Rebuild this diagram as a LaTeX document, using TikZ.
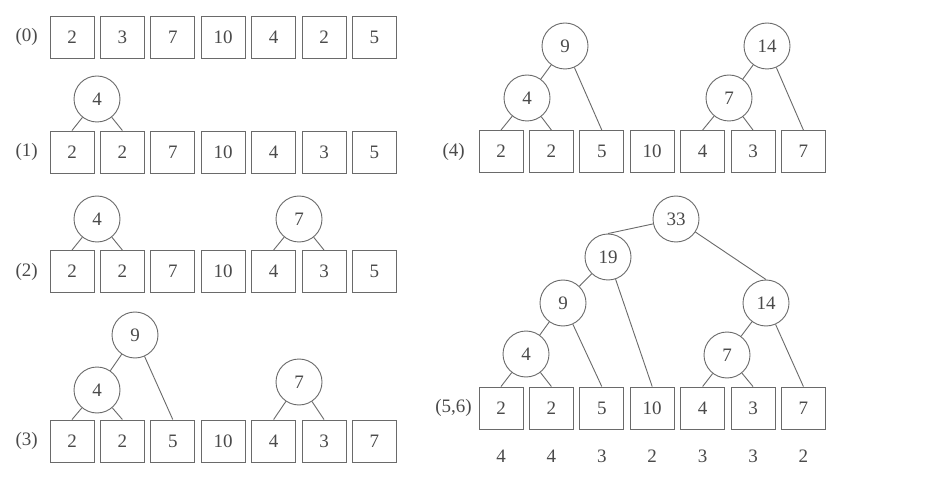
\documentclass[tikz,border=0pt]{standalone}
\usepackage{fontspec}
\setmainfont{Liberation Serif}
\definecolor{inkline}{HTML}{6A6A6A}
\definecolor{inktext}{HTML}{4A4A4A}
\begin{document}
\begin{tikzpicture}[x=1pt,y=-1pt,
  every node/.style={text=inktext,font=\fontsize{19}{22}\selectfont,inner sep=0pt},
  cell/.style={draw=inkline,line width=0.9pt,minimum width=44pt,minimum height=42pt},
  knot/.style={draw=inkline,line width=0.9pt,circle,minimum size=46pt},
  rowlbl/.style={anchor=east},
  edge/.style={draw=inkline,line width=0.9pt}]
\useasboundingbox (0,0) rectangle (942,478);
\fill[white] (0,0) rectangle (942,478);

% ---------- left column: rows (0)-(3) ----------
\foreach \r/\y/\vals in {0/37/{2,3,7,10,4,2,5},
                         1/152/{2,2,7,10,4,3,5},
                         2/271.5/{2,2,7,10,4,3,5},
                         3/441/{2,2,5,10,4,3,7}}{
  \node[rowlbl] (L\r) at (38,\y) {(\r)};
  \foreach \v [count=\i] in \vals
    \node[cell] (b\r\i) at ({72+50.4*(\i-1)},\y) {\v};
}

% row (1)
\node[knot] (c1a) at (97,99) {4};
\draw[edge] (c1a) -- (b11.north);
\draw[edge] (c1a) -- (b12.north);

% row (2)
\node[knot] (c2a) at (97,219) {4};
\node[knot] (c2b) at (299,219) {7};
\draw[edge] (c2a) -- (b21.north);
\draw[edge] (c2a) -- (b22.north);
\draw[edge] (c2b) -- (b25.north);
\draw[edge] (c2b) -- (b26.north);

% row (3)
\node[knot] (c3n) at (135,335) {9};
\node[knot] (c3a) at (97,390) {4};
\node[knot] (c3b) at (299,382) {7};
\draw[edge] (c3n) -- (c3a);
\draw[edge] (c3n) -- (b33.north);
\draw[edge] (c3a) -- (b31.north);
\draw[edge] (c3a) -- (b32.north);
\draw[edge] (c3b) -- (b35.north);
\draw[edge] (c3b) -- (b36.north);

% ---------- right column: rows (4) and (5,6) ----------
\node[rowlbl] (L4) at (465,151.5) {(4)};
\foreach \v [count=\i] in {2,2,5,10,4,3,7}
  \node[cell] (b4\i) at ({501+50.4*(\i-1)},151.5) {\v};
\node[knot] (c4n) at (565,46) {9};
\node[knot] (c4a) at (527,98) {4};
\node[knot] (c4m) at (767,46) {14};
\node[knot] (c4b) at (729,98) {7};
\draw[edge] (c4n) -- (c4a);
\draw[edge] (c4n) -- (b43.north);
\draw[edge] (c4a) -- (b41.north);
\draw[edge] (c4a) -- (b42.north);
\draw[edge] (c4m) -- (c4b);
\draw[edge] (c4m) -- (b47.north);
\draw[edge] (c4b) -- (b45.north);
\draw[edge] (c4b) -- (b46.north);

\node[rowlbl] (L5) at (472,408) {(5,6)};
\foreach \v [count=\i] in {2,2,5,10,4,3,7}
  \node[cell] (b5\i) at ({501+50.4*(\i-1)},408) {\v};
\foreach \d [count=\i] in {4,4,3,2,3,3,2}
  \node (d\i) at ({501+50.4*(\i-1)},456) {\d};
\node[knot] (t33) at (676,219) {33};
\node[knot] (t19) at (608,257) {19};
\node[knot] (t9)  at (563,303) {9};
\node[knot] (t4)  at (526,354) {4};
\node[knot] (t14) at (766,303) {14};
\node[knot] (t7)  at (727,355) {7};
\draw[edge] (t33) -- (t19.north);
\draw[edge] (t33) -- (t14.north);
\draw[edge] (t19) -- (t9);
\draw[edge] (t19) -- (b54.north);
\draw[edge] (t9) -- (t4);
\draw[edge] (t9) -- (b53.north);
\draw[edge] (t4) -- (b51.north);
\draw[edge] (t4) -- (b52.north);
\draw[edge] (t14) -- (t7);
\draw[edge] (t14) -- (b57.north);
\draw[edge] (t7) -- (b55.north);
\draw[edge] (t7) -- (b56.north);
\end{tikzpicture}
\end{document}
